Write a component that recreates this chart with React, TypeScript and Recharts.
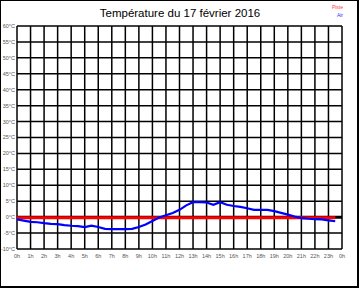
import React from "react";
import { CartesianGrid, Line, LineChart, ReferenceLine, XAxis, YAxis } from "recharts";

// hours of the day (0 = midnight)
const HOURS = [
  0, 0.5, 1, 1.5, 2, 2.5, 3, 3.5, 4, 4.5, 5, 5.5, 6, 6.5, 7, 7.5, 8, 8.5, 9, 9.5, 10, 10.5, 11, 11.5,
  12, 12.5, 13, 13.5, 14, 14.5, 15, 15.5, 16, 16.5, 17, 17.5, 18, 18.5, 19, 19.5, 20, 20.5, 21, 21.5,
  22, 22.5, 23, 23.5,
];
const AIR = [
  -0.7, -1.1, -1.5, -1.6, -1.9, -2.1, -2.2, -2.5, -2.7, -2.8, -3.1, -2.7, -3.1, -3.7, -3.75, -3.75,
  -3.75, -3.7, -3.1, -2.3, -1.2, -0.1, 0.6, 1.3, 2.3, 3.7, 4.7, 4.7, 4.6, 3.9, 4.7, 3.9, 3.5, 3.2,
  2.8, 2.3, 2.3, 2.3, 1.9, 1.35, 0.8, 0.2, -0.3, -0.5, -0.6, -0.7, -1.0, -1.3,
];
const PISTE = [
  -0.2, -0.2, -0.2, -0.2, -0.2, -0.2, -0.2, -0.2, -0.2, -0.2, -0.2, -0.2, -0.2, -0.2, -0.2, -0.2,
  -0.2, -0.2, -0.2, -0.2, -0.2, -0.2, -0.2, -0.2, -0.2, -0.2, -0.2, -0.2, -0.2, -0.2, -0.2, -0.2,
  -0.2, -0.2, -0.2, -0.2, -0.2, -0.2, -0.2, -0.2, -0.2, -0.2, -0.2, -0.2, -0.2, -0.2, -0.2, -0.2,
];
const X_TICKS = [0, 1, 2, 3, 4, 5, 6, 7, 8, 9, 10, 11, 12, 13, 14, 15, 16, 17, 18, 19, 20, 21, 22, 23, 24];
const Y_TICKS = [-10, -5, 0, 5, 10, 15, 20, 25, 30, 35, 40, 45, 50, 55, 60];

const TITLE = "Température du 17 février 2016";

const data = HOURS.map((h, i) => ({ h, air: AIR[i], piste: PISTE[i] }));

const tickStyle = { fontSize: 5.5, fill: "#555", fontFamily: "Liberation Sans, Arial, sans-serif" };

export default function App() {
  return (
    <div
      style={{
        position: "absolute",
        left: 0,
        top: 0,
        width: 360,
        height: 288,
        background: "#fff",
        fontFamily: "Liberation Sans, Arial, sans-serif",
      }}
    >
      <div
        style={{
          position: "absolute",
          left: 0,
          top: 0,
          width: 356,
          height: 285,
          borderTop: "1px solid #000",
          borderLeft: "1px solid #000",
          borderRight: "2px solid #000",
          borderBottom: "2px solid #000",
        }}
      />
      <div style={{ position: "absolute", left: 0, top: 7, width: 360, textAlign: "center", fontSize: 11.5, color: "#000" }}>
        {TITLE}
      </div>
      <div style={{ position: "absolute", right: 17, top: 4, fontSize: 5, color: "#ff4040", textAlign: "right" }}>Piste</div>
      <div style={{ position: "absolute", right: 17, top: 12, fontSize: 5, color: "#3030ff", textAlign: "right" }}>Air</div>
      <LineChart
        width={360}
        height={288}
        data={data}
        margin={{ top: 26, right: 18, bottom: 9, left: 0 }}
        style={{ position: "absolute", left: 0, top: 0 }}
      >
        <CartesianGrid stroke="#000" strokeWidth={1.5} />
        <XAxis
          dataKey="h"
          type="number"
          domain={[0, 24]}
          allowDataOverflow
          ticks={X_TICKS}
          tickFormatter={(v: number) => `${v % 24}h`}
          tick={tickStyle}
          axisLine={false}
          tickLine={false}
          tickSize={0}
          tickMargin={5}
          height={30}
          interval={0}
        />
        <YAxis
          type="number"
          domain={[-10, 60]}
          allowDataOverflow
          ticks={Y_TICKS}
          tickFormatter={(v: number) => `${v}°C`}
          tick={tickStyle}
          axisLine={false}
          tickLine={false}
          tickSize={0}
          width={17}
          tickMargin={2}
          interval={0}
        />
        <ReferenceLine y={0} stroke="#000" strokeWidth={3} />
        <Line dataKey="piste" stroke="#ff0000" strokeWidth={3} dot={false} isAnimationActive={false} />
        <Line dataKey="air" stroke="#0000ff" strokeWidth={2.2} dot={false} isAnimationActive={false} />
      </LineChart>
    </div>
  );
}
